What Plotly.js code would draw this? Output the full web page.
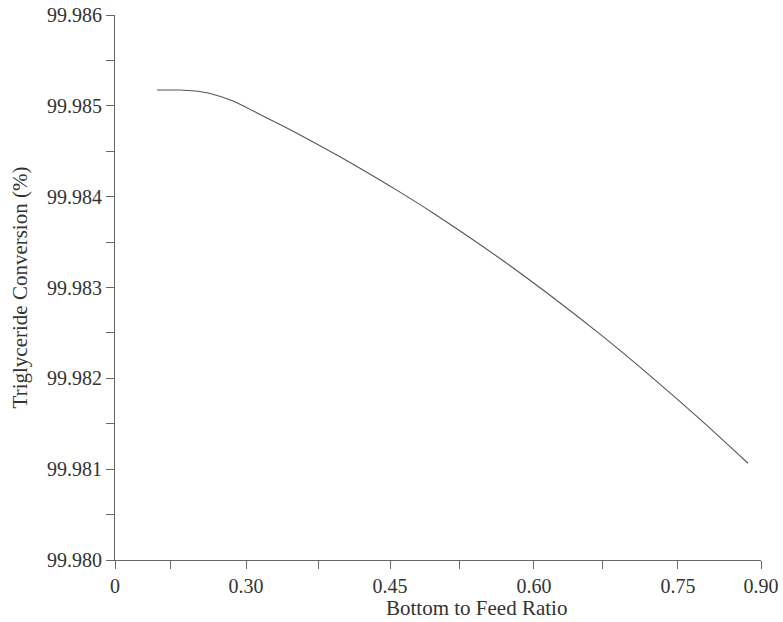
<!DOCTYPE html>
<html>
<head>
<meta charset="utf-8">
<script src="https://cdn.plot.ly/plotly-3.0.1.min.js"></script>
<style>html,body{margin:0;padding:0;background:#fff;}#chart{width:783px;height:622px;}</style>
</head>
<body>
<div id="chart"></div>
<script>
// Bottom to feed ratio (x) and triglyceride conversion in % (y)
const ratio = [0.2073, 0.2313, 0.2469, 0.2625, 0.2865, 0.3146, 0.3354, 0.3563, 0.4083, 0.4604, 0.4948, 0.5646, 0.6167, 0.6688, 0.7208, 0.7729, 0.8229];
const conversion = [99.985174, 99.985174, 99.985163, 99.985136, 99.985053, 99.984905, 99.984794, 99.984679, 99.984377, 99.984050, 99.983820, 99.983319, 99.982915, 99.982486, 99.982030, 99.981550, 99.981065];

// Axis ticks as drawn in the figure
const xTickVals = [0.1635, 0.2208, 0.30, 0.375, 0.45, 0.522, 0.60, 0.671, 0.75, 0.8365];
const xTickText = ["0", "", "0.30", "", "0.45", "", "0.60", "", "0.75", "0.90"];
const yTickVals = [99.980, 99.9805, 99.981, 99.9815, 99.982, 99.9825, 99.983, 99.9835, 99.984, 99.9845, 99.985, 99.9855, 99.986];
const yTickText = ["99.980", "", "99.981", "", "99.982", "", "99.983", "", "99.984", "", "99.985", "", "99.986"];
const xTitle = "Bottom to Feed Ratio";
const yTitle = "Triglyceride Conversion (%)";

const serif = "Liberation Serif, Times New Roman, serif";

const trace = {
  x: ratio,
  y: conversion,
  type: "scatter",
  mode: "lines",
  line: {color: "#555555", width: 1.1, shape: "spline", smoothing: 0.6},
  hoverinfo: "skip"
};

const layout = {
  width: 783,
  height: 622,
  margin: {l: 115, r: 22, t: 15, b: 62},
  paper_bgcolor: "#ffffff",
  plot_bgcolor: "#ffffff",
  showlegend: false,
  font: {family: serif, color: "#333333", size: 20},
  xaxis: {
    range: [0.1635, 0.8365],
    tickmode: "array",
    tickvals: xTickVals,
    ticktext: xTickText,
    ticks: "outside",
    ticklen: 8,
    tickwidth: 1,
    tickcolor: "#666666",
    showline: true,
    linecolor: "#666666",
    linewidth: 1,
    showgrid: false,
    zeroline: false,
    automargin: false,
    tickfont: {family: serif, size: 20, color: "#333333"}
  },
  yaxis: {
    range: [99.980, 99.986],
    tickmode: "array",
    tickvals: yTickVals,
    ticktext: yTickText,
    ticks: "outside",
    ticklen: 8,
    tickwidth: 1,
    tickcolor: "#666666",
    showline: true,
    linecolor: "#666666",
    linewidth: 1,
    showgrid: false,
    zeroline: false,
    automargin: false,
    tickfont: {family: serif, size: 20, color: "#333333"},
    title: {text: yTitle, font: {family: serif, size: 21, color: "#333333"}, standoff: 13}
  },
  annotations: [{
    text: xTitle,
    xref: "x", yref: "paper",
    x: 0.5396, y: -0.088,
    xanchor: "center", yanchor: "middle",
    showarrow: false,
    font: {family: serif, size: 21, color: "#333333"}
  }]
};

Plotly.newPlot("chart", [trace], layout, {displayModeBar: false, staticPlot: true});
</script>
</body>
</html>
